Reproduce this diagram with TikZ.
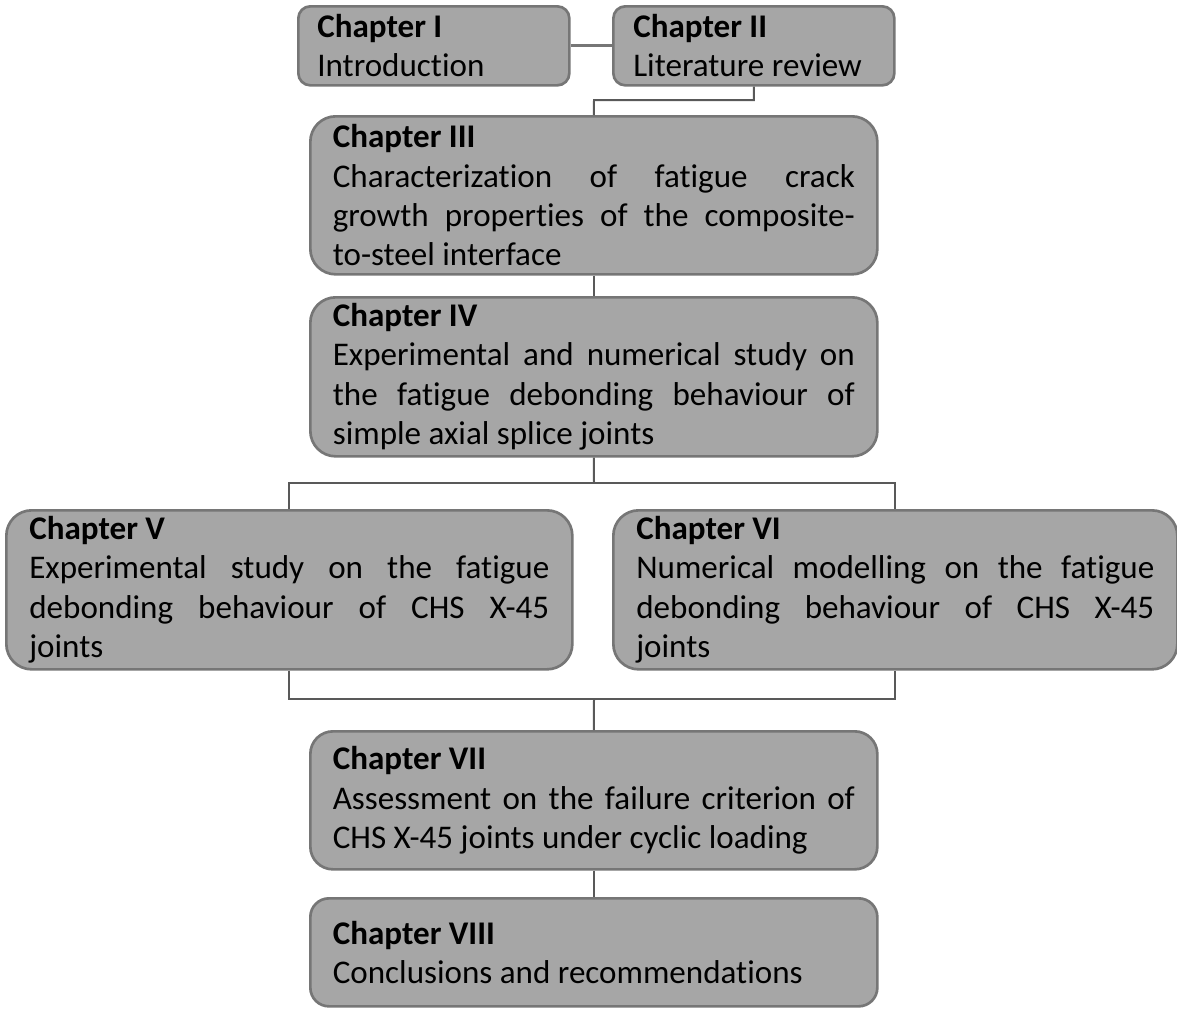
\documentclass[tikz,border=0pt]{standalone}
\usepackage{fontspec}
\setmainfont{Carlito}[Ligatures=NoCommon]
\definecolor{fillgray}{HTML}{A6A6A6}
\definecolor{bordergray}{HTML}{767676}
\definecolor{linegray}{HTML}{595959}
\hyphenpenalty=10000
\exhyphenpenalty=10000
\hbadness=10000
\hfuzz=30pt
\begin{document}
\begin{tikzpicture}[x=0.75pt,y=-0.75pt,
  box/.style={draw=bordergray, line width=2pt, fill=fillgray, anchor=north west,
    align=justify, inner sep=0pt, text=black,
    font={\fontsize{24.8}{29.5}\selectfont}},
  conn/.style={draw=linegray, line width=1.5pt},
  toplink/.style={draw=bordergray, line width=2.2pt}]
\useasboundingbox (0,0) rectangle (1177,1010);

\node[box, rounded corners=9pt, minimum width={271*0.75pt}, minimum height={79*0.75pt}, text width={233*0.75pt}]
  (c1) at (297,5) {\textbf{Chapter I}\\Introduction};
\node[box, rounded corners=9pt, minimum width={281*0.75pt}, minimum height={79*0.75pt}, text width={241*0.75pt}]
  (c2) at (612,5) {\textbf{Chapter II}\\Literature review};
\node[box, rounded corners=19pt, minimum width={567*0.75pt}, minimum height={158*0.75pt}, text width={522*0.75pt}]
  (c3) at (309,115) {\textbf{Chapter III}\\Characterization of fatigue crack\linebreak growth properties of the composite-\linebreak to-steel interface};
\node[box, rounded corners=19pt, minimum width={567*0.75pt}, minimum height={159*0.75pt}, text width={522*0.75pt}]
  (c4) at (309,296) {\textbf{Chapter IV}\\Experimental and numerical study on\linebreak the fatigue debonding behaviour of\linebreak simple axial splice joints};
\node[box, rounded corners=19pt, minimum width={566*0.75pt}, minimum height={159*0.75pt}, text width={520*0.75pt}]
  (c5) at (5,509) {\textbf{Chapter V}\\Experimental study on the fatigue\linebreak debonding behaviour of CHS X-45\linebreak joints};
\node[box, rounded corners=19pt, minimum width={564*0.75pt}, minimum height={159*0.75pt}, text width={518*0.75pt}]
  (c6) at (612,509) {\textbf{Chapter VI}\\Numerical modelling on the fatigue\linebreak debonding behaviour of CHS X-45\linebreak joints};
\node[box, rounded corners=17pt, minimum width={567*0.75pt}, minimum height={138*0.75pt}, text width={522*0.75pt}]
  (c7) at (309,730) {\textbf{Chapter VII}\\Assessment on the failure criterion of\linebreak CHS X-45 joints under cyclic loading};
\node[box, rounded corners=14pt, minimum width={567*0.75pt}, minimum height={108*0.75pt}, text width={522*0.75pt}]
  (c8) at (309,897) {\textbf{Chapter VIII}\\Conclusions and recommendations};

\coordinate (j1) at (594,100);
\coordinate (j2) at (594,483);
\coordinate (j3) at (594,699);

\draw[toplink] (c1.east) -- (c2.west);
\draw[conn] (c2.south) |- (j1) -- (c3.north);
\draw[conn] (c3.south) -- (c4.north);
\draw[conn] (c4.south) -- (j2);
\draw[conn] (c5.north) |- (j2) -| (c6.north);
\draw[conn] (c5.south) |- (j3) -| (c6.south);
\draw[conn] (j3) -- (c7.north);
\draw[conn] (c7.south) -- (c8.north);
\end{tikzpicture}
\end{document}
